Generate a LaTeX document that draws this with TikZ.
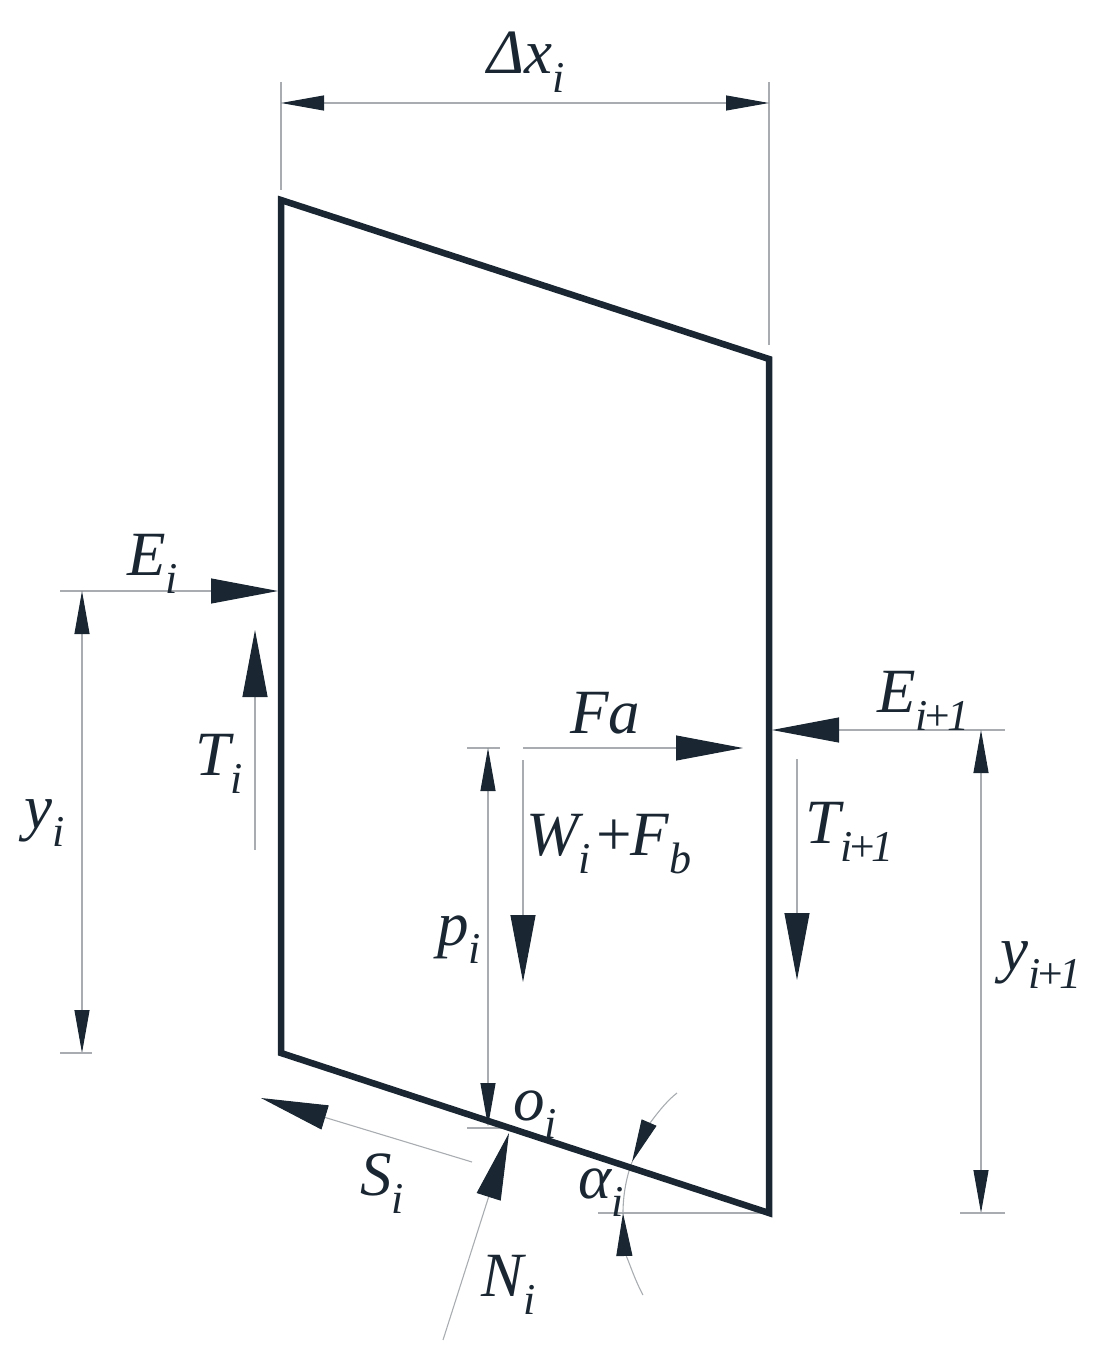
\documentclass[tikz,border=0pt]{standalone}
\usepackage{fontspec}
\setmainfont{Liberation Serif}
\usetikzlibrary{arrows.meta}
\definecolor{ink}{HTML}{1A2733}
\definecolor{thinink}{HTML}{A9ADB1}
\newcommand{\lowr}[1]{\raisebox{-0.3em}{\fontsize{44}{44}\selectfont #1}}
\newcommand{\tightplus}{\kern-.12em+\kern-.12em}
\begin{document}
\begin{tikzpicture}[x=1pt,y=-1pt,
  thin line/.style={thinink,line width=1.1pt},
  slice/.style={ink,line width=6.5pt,line join=miter},
  force/.style={thin line,-{Triangle[length=67pt,width=25pt,color=ink,fill=ink]}},
  dimen/.style={thin line,{Triangle[length=43pt,width=15pt,color=ink,fill=ink]}-{Triangle[length=43pt,width=15pt,color=ink,fill=ink]}},
  dimentip/.style={thin line,-{Triangle[length=43pt,width=16pt,color=ink,fill=ink]}},
  lab/.style={ink,inner sep=0pt,anchor=base west,font=\fontsize{63}{63}\selectfont\itshape}]
\useasboundingbox (0,0) rectangle (1113,1356);
% slice corners
\coordinate (A) at (281,200);
\coordinate (B) at (769,359);
\coordinate (C) at (769,1213);
\coordinate (D) at (281,1053);
% width dimension
\coordinate (dxL) at (281,103);
\coordinate (dxR) at (769,103);
\coordinate (dxLtop) at (281,82);
\coordinate (dxRtop) at (769,82);
\coordinate (dxLend) at (281,190);
\coordinate (dxRend) at (769,345);
\draw [thin line] (dxLtop) -- (dxLend);
\draw [thin line] (dxRtop) -- (dxRend);
\draw [dimen] (dxL) -- (dxR);
% left side
\coordinate (EiS) at (60,591);
\coordinate (EiT) at (278,591);
\coordinate (yiT) at (82,591);
\coordinate (yiB) at (82,1053);
\coordinate (yiE) at (60,1053);
\coordinate (yiF) at (92,1053);
\coordinate (TiS) at (255,850);
\coordinate (TiT) at (255,630);
\draw [force] (EiS) -- (EiT);
\draw [dimen] (yiT) -- (yiB);
\draw [thin line] (yiE) -- (yiF);
\draw [force] (TiS) -- (TiT);
% inside
\coordinate (FaS) at (467,748);
\coordinate (FaG) at (500,748);
\coordinate (FaH) at (523,748);
\coordinate (FaT) at (743,748);
\coordinate (piT) at (488,748);
\coordinate (piB) at (488,1126);
\coordinate (piE) at (467,1128);
\coordinate (piF) at (505,1128);
\coordinate (WiS) at (523,760);
\coordinate (WiT) at (523,982);
\draw [thin line] (FaS) -- (FaG);
\draw [force] (FaH) -- (FaT);
\draw [dimen] (piT) -- (piB);
\draw [thin line] (piE) -- (piF);
\draw [force] (WiS) -- (WiT);
% right side
\coordinate (EnS) at (1005,730);
\coordinate (EnT) at (772,730);
\coordinate (TnS) at (797,759);
\coordinate (TnT) at (797,980);
\coordinate (ynT) at (981,730);
\coordinate (ynB) at (981,1213);
\coordinate (ynE) at (960,1213);
\coordinate (ynF) at (1005,1213);
\draw [force] (EnS) -- (EnT);
\draw [force] (TnS) -- (TnT);
\draw [dimen] (ynT) -- (ynB);
\draw [thin line] (ynE) -- (ynF);
% base forces
\coordinate (SiS) at (472,1162);
\coordinate (SiT) at (261,1098);
\coordinate (NiS) at (443,1340);
\coordinate (NiT) at (509,1133);
\draw [force] (SiS) -- (SiT);
\draw [force] (NiS) -- (NiT);
% base angle
\coordinate (hor) at (598,1213);
\coordinate (arcA) at (677,1093);
\coordinate (arcB) at (632,1162);
\coordinate (arcC) at (623,1213);
\coordinate (arcD) at (643,1295);
\draw [thin line] (hor) -- (C);
\draw [dimentip] (arcA) .. controls (660,1106) and (645,1132) .. (arcB);
\draw [thin line] (arcB) .. controls (626,1178) and (623,1196) .. (arcC);
\draw [dimentip] (arcD) .. controls (632,1275) and (624,1245) .. (arcC);
% the slice goes over the thin lines
\draw [slice] (A) -- (B) -- (C) -- (D) -- cycle;
% labels
\node [lab] (dx) at (487,74) {Δx\lowr{i}};
\node [lab] (Ei) at (127,575) {E\lowr{i}};
\node [lab] (Ti) at (195,775) {T\lowr{i}};
\node [lab] (yi) at (24,828) {y\lowr{i}};
\node [lab] (Fa) at (570,733) {Fa};
\node [lab] (En) at (877,712) {E\lowr{i\tightplus 1}};
\node [lab] (Wi) at (526,855) {W\lowr{i}\kern.02em+\kern-.06em F\lowr{b}};
\node [lab] (Tn) at (805,843) {T\lowr{i\tightplus 1}};
\node [lab] (pi) at (437,945) {p\lowr{i}};
\node [lab] (yn) at (1000,970) {y\lowr{i\tightplus 1}};
\node [lab] (oi) at (513,1120) {o\lowr{i}};
\node [lab] (al) at (578,1198) {α\lowr{i}};
\node [lab] (Si) at (360,1195) {S\lowr{i}};
\node [lab] (Ni) at (481,1296) {N\lowr{i}};
\end{tikzpicture}
\end{document}
